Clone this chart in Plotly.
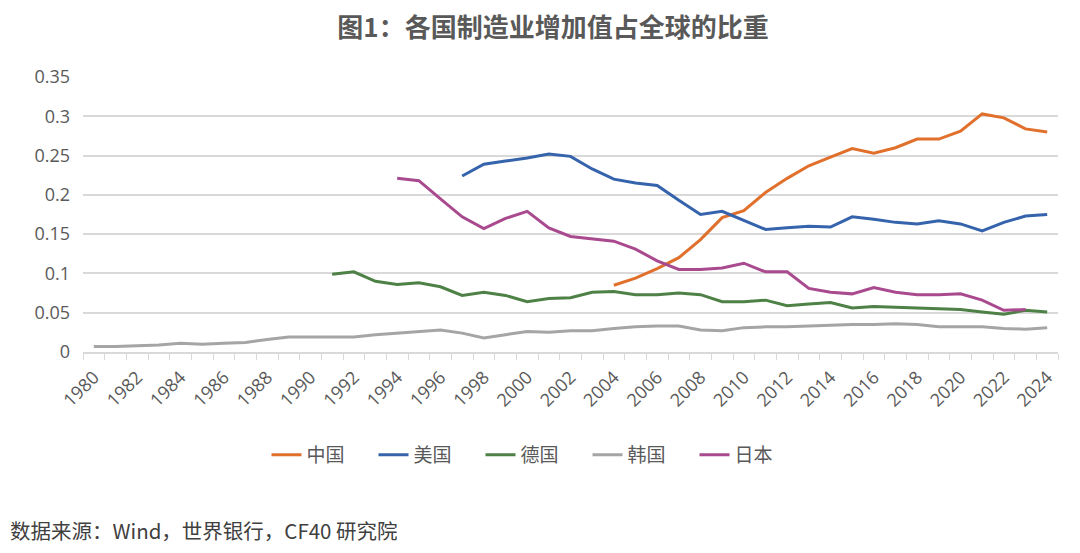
import plotly.graph_objects as go

china_years = list(range(2004, 2025))
china = [0.085, 0.094, 0.106, 0.120, 0.143, 0.171, 0.180, 0.203, 0.221, 0.237,
         0.248, 0.259, 0.253, 0.260, 0.271, 0.271, 0.281, 0.303, 0.298, 0.284, 0.280]

usa_years = list(range(1997, 2025))
usa = [0.224, 0.239, 0.243, 0.247, 0.252, 0.249, 0.233, 0.220, 0.215, 0.212,
       0.193, 0.175, 0.179, 0.168, 0.156, 0.158, 0.160, 0.159, 0.172, 0.169,
       0.165, 0.163, 0.167, 0.163, 0.154, 0.165, 0.173, 0.175]

germany_years = list(range(1991, 2025))
germany = [0.099, 0.102, 0.090, 0.086, 0.088, 0.083, 0.072, 0.076, 0.072, 0.064,
           0.068, 0.069, 0.076, 0.077, 0.073, 0.073, 0.075, 0.073, 0.064, 0.064,
           0.066, 0.059, 0.061, 0.063, 0.056, 0.058, 0.057, 0.056, 0.055, 0.054,
           0.051, 0.048, 0.053, 0.051]

korea_years = list(range(1980, 2025))
korea = [0.007, 0.007, 0.008, 0.009, 0.011, 0.010, 0.011, 0.012, 0.016, 0.019,
         0.019, 0.019, 0.019, 0.022, 0.024, 0.026, 0.028, 0.024, 0.018, 0.022,
         0.026, 0.025, 0.027, 0.027, 0.030, 0.032, 0.033, 0.033, 0.028, 0.027,
         0.031, 0.032, 0.032, 0.033, 0.034, 0.035, 0.035, 0.036, 0.035, 0.032,
         0.032, 0.032, 0.030, 0.029, 0.031]

japan_years = list(range(1994, 2024))
japan = [0.221, 0.218, 0.195, 0.172, 0.157, 0.170, 0.179, 0.158, 0.147, 0.144,
         0.141, 0.131, 0.116, 0.105, 0.105, 0.107, 0.113, 0.102, 0.102, 0.081,
         0.076, 0.074, 0.082, 0.076, 0.073, 0.073, 0.074, 0.066, 0.053, 0.054]

tick_years = list(range(1980, 2025, 2))
y_ticks = [0, 0.05, 0.1, 0.15, 0.2, 0.25, 0.3, 0.35]
y_labels = ["0", "0.05", "0.1", "0.15", "0.2", "0.25", "0.3", "0.35"]

series = [
    ("中国", china_years, china, "#E0702C"),
    ("美国", usa_years, usa, "#3563AC"),
    ("德国", germany_years, germany, "#4E8146"),
    ("韩国", korea_years, korea, "#A5A5A5"),
    ("日本", japan_years, japan, "#A94A8E"),
]

font_family = "Open Sans, Noto Sans CJK SC, sans-serif"

W, H = 1072, 545
OFF = 8  # page body margin

fig = go.Figure()
for name, xs, ys, col in series:
    fig.add_trace(go.Scatter(x=xs, y=ys, name=name, mode="lines",
                             line=dict(color=col, width=3)))

plot_left, plot_right = 82.7 - OFF, 1058 - OFF
plot_top, plot_bottom = 76.7 - OFF, 352.3 - OFF
plot_w = plot_right - plot_left
plot_h = plot_bottom - plot_top

fig.update_layout(
    width=W, height=H,
    paper_bgcolor="white", plot_bgcolor="white",
    margin=dict(l=plot_left, r=W - plot_right, t=plot_top, b=H - plot_bottom,
                autoexpand=False),
    font=dict(family=font_family, color="#595959"),
    title=dict(text="<b>图1：各国制造业增加值占全球的比重</b>",
               x=(553 - OFF) / W, xanchor="center", xref="container",
               y=1 - (28 - OFF) / H, yanchor="middle", yref="container",
               font=dict(family="Noto Sans CJK SC", size=26, color="#595959")),
    showlegend=True,
    legend=dict(orientation="h", xref="container", x=(534 - OFF) / W, xanchor="center",
                yref="container", y=1 - (455 - OFF) / H, yanchor="middle",
                font=dict(family="Noto Sans CJK SC", size=19, color="#595959"),
                entrywidth=62, entrywidthmode="pixels", tracegroupgap=0),
    annotations=[dict(text="数据来源：Wind，世界银行，CF40 研究院",
                      xref="paper", yref="paper",
                      x=(8 - 82.7) / plot_w, y=(352.3 - 531) / plot_h,
                      xanchor="left", yanchor="middle", showarrow=False,
                      font=dict(family="Noto Sans CJK SC", size=20.5, color="#404040"))],
)

fig.update_xaxes(
    range=[1979.5, 2024.5],
    tickmode="array", tickvals=tick_years, ticktext=[str(y) for y in tick_years],
    tickangle=-45, ticks="", showgrid=False, zeroline=False,
    showline=True, linecolor="#D9D9D9", linewidth=1.5,
    tickfont=dict(size=18, color="#595959"), ticklabelstandoff=6,
    minor=dict(tick0=1979.5, dtick=1, ticks="outside", ticklen=6,
               tickcolor="#D9D9D9", tickwidth=1, showgrid=False),
)
fig.update_yaxes(
    range=[0, 0.35], tickmode="array", tickvals=y_ticks, ticktext=y_labels,
    showgrid=True, gridcolor="#D9D9D9", gridwidth=1.5,
    zeroline=False, showline=False, ticks="",
    tickfont=dict(size=18, color="#595959"), ticklabelstandoff=12,
)

fig.write_html("out.html")
